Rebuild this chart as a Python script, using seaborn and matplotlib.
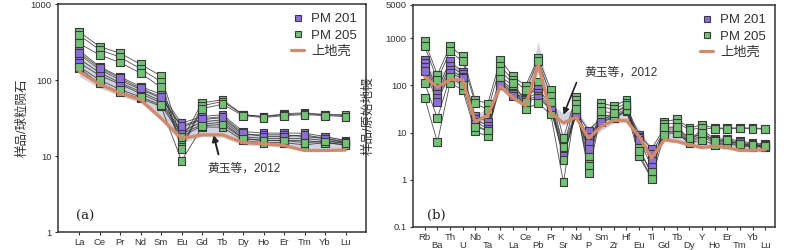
import numpy as np
import pandas as pd
import matplotlib
matplotlib.use("Agg")
import matplotlib.pyplot as plt
import seaborn as sns
from matplotlib.lines import Line2D
from matplotlib.ticker import NullLocator

# --- data: (a) chondrite normalised REE ---
ree = ["La", "Ce", "Pr", "Nd", "Sm", "Eu", "Gd", "Tb", "Dy", "Ho", "Er", "Tm", "Yb", "Lu"]
ree_pm201 = {
    "201-1": [245, 150, 110, 82, 65, 27, 33, 35, 21, 20, 20, 20, 18, 16],
    "201-2": [215, 138, 100, 75, 58, 24, 30, 32, 19, 19, 19, 18, 17, 15],
    "201-3": [190, 125, 92, 70, 53, 21, 28, 30, 18, 17, 17, 17, 16, 14.5],
    "201-4": [168, 115, 88, 66, 50, 19.5, 26, 28, 17, 16, 16, 16, 15, 14],
    "201-5": [228, 145, 105, 78, 60, 25, 31, 33, 20, 18, 18, 19, 17, 15.5],
}
ree_pm205 = {
    "205-1": [430, 275, 225, 161, 113, 16, 50, 55, 35, 33, 36, 37, 35, 34],
    "205-2": [390, 250, 200, 140, 95, 13, 46, 52, 35, 33, 35, 36, 35, 35],
    "205-3": [304, 213, 170, 123, 80, 12.5, 42, 48, 34, 32, 34, 35, 34, 33],
    "205-4": [143, 90, 70, 57, 45, 8.6, 24, 24, 16, 15, 15, 14, 15, 14],
    "205-5": [150, 100, 75, 60, 47, 18, 25, 26, 17, 16, 16, 15, 15.5, 15],
}
ree_crust = [129, 88, 67, 55, 31.5, 17, 19, 19, 15, 14.5, 13.8, 11.8, 11.8, 12]
ree_band_lo = [112, 78, 62, 50, 29, 15, 18, 17.5, 14, 13.5, 13, 11.5, 11.5, 11.5]
ree_band_hi = [200, 140, 100, 78, 58, 25, 30, 31, 20, 19.5, 19.5, 19, 18.5, 17]

# --- data: (b) primitive mantle normalised trace elements ---
tre = ["Rb", "Ba", "Th", "U", "Nb", "Ta", "K", "La", "Ce", "Pb", "Pr", "Sr", "Nd", "P",
       "Sm", "Zr", "Hf", "Eu", "Ti", "Gd", "Tb", "Dy", "Y", "Ho", "Er", "Tm", "Yb", "Lu"]
tre_pm201 = {
    "201-1": [350, 80, 320, 190, 22, 17, 135, 80, 58, 85, 37, 5.5, 27, 11, 21, 25, 36, 9, 4.5, 12.5, 12.4, 7.2, 11.5, 7.2, 7.4, 6.6, 6, 5.8],
    "201-2": [300, 65, 260, 170, 19, 14, 120, 72, 52, 70, 34, 4.5, 25, 8, 19, 23, 32, 8, 3.5, 11.5, 11.2, 6.8, 10, 6.8, 7, 6.2, 5.6, 5.5],
    "201-3": [250, 55, 210, 150, 17, 12, 110, 66, 48, 60, 32, 3.8, 24, 6, 18, 21, 30, 7.5, 2.5, 10.5, 10.5, 6.4, 9, 6.2, 6.5, 5.8, 5.3, 5.2],
    "201-4": [200, 45, 180, 140, 15, 10.5, 100, 60, 44, 55, 30, 3.2, 23, 4.5, 17, 20, 28, 7, 1.9, 10, 9.8, 6, 8.3, 5.8, 6.1, 5.5, 5.1, 5],
}
tre_pm205 = {
    "205-1": [850, 167, 667, 409, 49, 41, 350, 154, 98, 377, 81, 7.6, 58, 3.1, 42, 36, 49, 4.7, 1.27, 17, 19, 12.4, 14.6, 12.4, 12.4, 12.6, 12.4, 12.2],
    "205-2": [667, 130, 522, 321, 42, 30, 251, 130, 80, 320, 60, 5, 48, 2.2, 35, 31, 42, 3.5, 1.1, 15, 16, 11.5, 12.5, 12, 12, 12.2, 12, 11.8],
    "205-3": [54, 6.2, 111, 81, 10.5, 8.3, 150, 100, 31, 42, 24, 0.88, 40, 1.4, 25, 20, 30, 3.1, 1.05, 9, 9.7, 6, 7, 5.5, 5.8, 5.2, 5, 4.9],
    "205-4": [111, 20, 150, 100, 13, 11, 200, 111, 45, 120, 45, 2.6, 32, 2, 28, 26, 38, 4, 1.5, 13, 13, 7.5, 9.7, 6.5, 6.8, 5.7, 5.4, 5.2],
}
tre_crust = [149, 92, 131, 131, 17, 23, 95, 54, 37, 272, 26, 16, 21, 7.6, 13.5, 18, 18, 8.3, 2.9,
             7, 6.5, 5.5, 4.8, 5.2, 4.8, 4.2, 4.2, 4.3]
tre_band_lo = [120, 70, 110, 100, 14, 18, 80, 48, 33, 180, 22, 14, 19, 6.5, 11, 16, 16, 7, 2.4,
               6.5, 6, 5, 4.5, 4.6, 4.4, 3.9, 3.9, 4]
tre_band_hi = [260, 160, 260, 240, 24, 33, 150, 75, 55, 850, 40, 26, 32, 13, 20, 25, 25, 12, 4.7,
               9, 9, 7, 6.5, 6.5, 6.2, 5.8, 5.6, 5.6]

PURPLE = "#8c6fd6"
GREEN = "#72c274"
EDGE = "#3a3a3a"
CRUST = "#d38a6a"
BAND = "#c9ccd9"
FONTS = ["Liberation Sans", "Noto Sans CJK SC", "DejaVu Sans"]


def long_form(elements, pm201, pm205):
    rows = []
    for grp, d in (("PM 201", pm201), ("PM 205", pm205)):
        for name, vals in d.items():
            for i, v in enumerate(vals):
                rows.append({"pos": i, "elem": elements[i], "val": v, "sample": name, "group": grp})
    return pd.DataFrame(rows)


def draw_panel(ax, elements, pm201, pm205, crust, lo, hi):
    df = long_form(elements, pm201, pm205)
    pos = np.arange(len(elements))
    ax.fill_between(pos, lo, hi, color=BAND, alpha=0.85, lw=0, zorder=1)
    sns.lineplot(data=df, x="pos", y="val", units="sample", estimator=None, sort=False,
                 color="#2e2e2e", lw=0.6, alpha=0.85, legend=False, ax=ax, zorder=2)
    sns.scatterplot(data=df, x="pos", y="val", hue="group",
                    palette={"PM 201": PURPLE, "PM 205": GREEN}, marker="s", s=32,
                    edgecolor=EDGE, linewidth=0.8, legend=False, ax=ax, zorder=3)
    sns.lineplot(x=pos, y=crust, color=CRUST, lw=2.3, ax=ax, zorder=4)
    ax.set_yscale("log")
    ax.yaxis.set_minor_locator(NullLocator())
    ax.set_xticks(pos)
    ax.set_xticklabels(elements)
    ax.set_xlabel("")
    for sp in ax.spines.values():
        sp.set_color("#333333")
        sp.set_linewidth(1.1)
    ax.tick_params(axis="both", direction="out", length=2.5, width=0.8, color="#333333",
                   labelsize=6.8, labelcolor="#333333", pad=2)
    handles = [
        Line2D([], [], ls="", marker="s", ms=5, mfc=PURPLE, mec=EDGE, mew=0.8),
        Line2D([], [], ls="", marker="s", ms=5, mfc=GREEN, mec=EDGE, mew=0.8),
        Line2D([], [], color=CRUST, lw=2.3),
    ]
    leg = ax.legend(handles, ["PM 201", "PM 205", "上地壳"], loc="upper right", frameon=False,
                    prop={"family": FONTS, "size": 9.5}, handlelength=1.0, handletextpad=0.5,
                    labelspacing=0.3, borderaxespad=0.3)
    for t in leg.get_texts():
        t.set_color("#333333")


sns.set_theme(style="ticks")
plt.rcParams["font.family"] = FONTS

fig = plt.figure(figsize=(8, 2.5), dpi=100)
ax1 = fig.add_axes([0.0725, 0.072, 0.385, 0.912])
ax2 = fig.add_axes([0.516, 0.092, 0.453, 0.888])

# (a)
draw_panel(ax1, ree, ree_pm201, ree_pm205, ree_crust, ree_band_lo, ree_band_hi)
ax1.set_xlim(-1.03, 14.0)
ax1.set_ylim(1, 1000)
ax1.set_yticks([1, 10, 100, 1000])
ax1.set_yticklabels(["1", "10", "100", "1000"])
ax1.set_ylabel("样品/球粒陨石", fontsize=9, color="#333333")
ax1.yaxis.set_label_coords(-0.097, 0.5)
ax1.annotate("", xy=(6.53, 20.5), xytext=(6.83, 9.7),
             arrowprops=dict(arrowstyle="-|>", color="#222222", lw=1.4, mutation_scale=9))
ax1.text(8.05, 6.9, "黄玉等，2012", fontsize=8.5, ha="center", va="center", color="#333333")
ax1.text(0.057, 0.07, "(a)", transform=ax1.transAxes, fontsize=9.5, family="DejaVu Serif",
         va="center", color="#222222")

# (b)
draw_panel(ax2, tre, tre_pm201, tre_pm205, tre_crust, tre_band_lo, tre_band_hi)
ax2.set_xlim(-0.95, 27.8)
ax2.set_ylim(0.1, 5000)
ax2.set_yticks([0.1, 1, 10, 100, 1000, 5000])
ax2.set_yticklabels(["0.1", "1", "10", "100", "1000", "5000"])
ax2.set_ylabel("样品/原始地幔", fontsize=9, color="#333333")
ax2.yaxis.set_label_coords(-0.105, 0.5)
for i, tk in enumerate(ax2.xaxis.get_major_ticks()):
    if i % 2 == 1:
        tk.set_pad(7.5)
ax2.annotate("", xy=(10.92, 21), xytext=(12.12, 129),
             arrowprops=dict(arrowstyle="-|>", color="#222222", lw=1.2, mutation_scale=9))
ax2.text(15.54, 181, "黄玉等，2012", fontsize=8.5, ha="center", va="center", color="#333333")
ax2.text(0.039, 0.054, "(b)", transform=ax2.transAxes, fontsize=9.5, family="DejaVu Serif",
         va="center", color="#222222")

fig.savefig("out.png", dpi=100)
